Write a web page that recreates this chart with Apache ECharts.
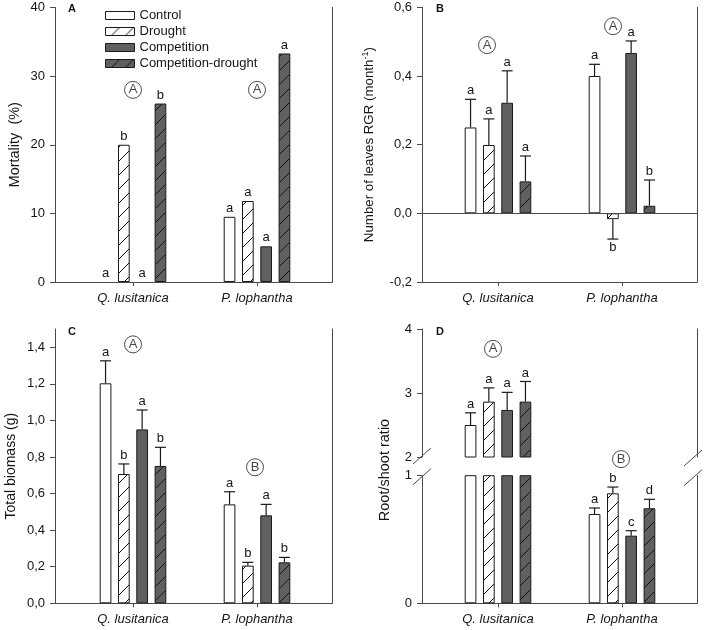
<!DOCTYPE html>
<html><head><meta charset="utf-8">
<script src="https://cdn.jsdelivr.net/npm/echarts@6/dist/echarts.min.js"></script>
<style>html,body{margin:0;padding:0;background:#fff}#c{width:709px;height:630px}</style>
</head><body><div id="c"></div><script>
// ---------------- DATA ----------------
const species = ['Q. lusitanica', 'P. lophantha'];
const treatments = ['Control', 'Drought', 'Competition', 'Competition-drought'];

// Panel A – Mortality (%) rows = treatments, cols = species
const mortality = [[0, 9.5], [20, 11.8], [0, 5.2], [26, 33.3]];
const mortalityLetters = [['a', 'a'], ['b', 'a'], ['a', 'a'], ['b', 'a']];
const mortalityGroups = ['A', 'A'];

// Panel B – Number of leaves RGR (month-1)
const rgr = [[0.25, 0.40], [0.199, -0.017], [0.322, 0.467], [0.093, 0.022]];
const rgrSE = [[0.082, 0.034], [0.076, 0.058], [0.093, 0.035], [0.074, 0.075]];
const rgrLetters = [['a', 'a'], ['a', 'b'], ['a', 'a'], ['a', 'b']];
const rgrGroups = ['A', 'A'];

// Panel C – Total biomass (g)
const biomass = [[1.203, 0.541], [0.707, 0.206], [0.951, 0.481], [0.751, 0.224]];
const biomassSE = [[0.123, 0.069], [0.055, 0.018], [0.106, 0.06], [0.102, 0.027]];
const biomassLetters = [['a', 'a'], ['b', 'b'], ['a', 'a'], ['b', 'b']];
const biomassGroups = ['A', 'B'];
const biomassTicks = [0, 0.2, 0.4, 0.6, 0.8, 1.0, 1.2, 1.4];

// Panel D – Root/shoot ratio (broken axis 1 → 2)
const ratio = [[2.5, 0.70], [2.865, 0.862], [2.735, 0.53], [2.865, 0.745]];
const ratioSE = [[0.19, 0.047], [0.215, 0.049], [0.275, 0.039], [0.315, 0.07]];
const ratioLetters = [['a', 'a'], ['a', 'b'], ['a', 'c'], ['a', 'd']];
const ratioGroups = ['A', 'B'];

// ---------------- STYLE ----------------
const FONT = '"Liberation Sans", Arial, sans-serif';
const AXIS_C = '#4a4a4a';
const TXT_C = '#151515';
const BAR_W = 11.7, BAR_GAP = 6.6, STRIDE = BAR_W + BAR_GAP, CAP = 11;
const GAP_PCT = (BAR_GAP / BAR_W * 100).toFixed(1) + '%';
const INNER_W = 248;
const DARK = '#606060';

function hatch(bg) {
  const s = 14, c = document.createElement('canvas');
  c.width = s; c.height = s;
  const g = c.getContext('2d');
  g.fillStyle = bg; g.fillRect(0, 0, s, s);
  g.strokeStyle = '#111'; g.lineWidth = 1;
  g.beginPath();
  g.moveTo(0, s); g.lineTo(s, 0);
  g.moveTo(-2, 2); g.lineTo(2, -2);
  g.moveTo(s - 2, s + 2); g.lineTo(s + 2, s - 2);
  g.stroke();
  return { image: c, repeat: 'repeat' };
}
const fills = ['#ffffff', hatch('#ffffff'), DARK, hatch(DARK)];
const itemStyles = fills.map(f => ({ color: f, borderColor: '#1a1a1a', borderWidth: 1 }));

const grid = [], xAxis = [], yAxis = [], series = [], graphic = [];

function addPanel(rect, innerLeft, y, opt) {
  opt = opt || {};
  const go = grid.length;
  grid.push({ left: rect.l, top: rect.t, width: rect.w, height: rect.h });
  const gi = grid.length;
  grid.push({ left: innerLeft, top: rect.t, width: INNER_W, height: rect.h });
  const xo = xAxis.length;
  xAxis.push({ gridIndex: go, type: 'value', min: 0, max: 1, show: opt.bottomLine !== false,
    axisLine: { show: true, onZero: false, lineStyle: { color: AXIS_C, width: 1 } },
    axisTick: { show: false }, axisLabel: { show: false }, splitLine: { show: false } });
  const xi = xAxis.length;
  xAxis.push({ gridIndex: gi, type: 'category', data: species, show: opt.catLabels !== false,
    axisLine: { show: false, onZero: false },
    axisTick: { show: true, alignWithLabel: true, length: 4, lineStyle: { color: AXIS_C } },
    axisLabel: { fontSize: 13, fontStyle: 'italic', color: TXT_C, fontFamily: FONT, margin: 10 },
    splitLine: { show: false } });
  const yo = yAxis.length;
  const left = { gridIndex: go, type: 'value', position: 'left', min: y.min, max: y.max, interval: y.interval,
    axisLine: { show: true, onZero: false, lineStyle: { color: AXIS_C, width: 1 } },
    axisTick: { show: true, length: 5, lineStyle: { color: AXIS_C } },
    axisLabel: { fontSize: 13, color: TXT_C, fontFamily: FONT, margin: 10, formatter: y.fmt },
    splitLine: { show: false } };
  if (y.ticks) { left.axisTick.customValues = y.ticks; left.axisLabel.customValues = y.ticks; }
  if (y.name) {
    left.name = y.name; left.nameLocation = 'middle'; left.nameGap = y.nameGap;
    left.nameTextStyle = Object.assign({ fontSize: 14, color: TXT_C, fontFamily: FONT }, y.nameStyle || {});
  }
  yAxis.push(left);
  yAxis.push({ gridIndex: go, type: 'value', position: 'right', min: y.min, max: y.max,
    axisLine: { show: true, onZero: false, lineStyle: { color: AXIS_C, width: 1 } },
    axisTick: { show: false }, axisLabel: { show: false }, splitLine: { show: false } });
  const yi = yAxis.length;
  yAxis.push({ gridIndex: gi, type: 'value', min: y.min, max: y.max, show: false });
  return { xo, xi, yo, yi };
}

function makeErr(t, lets) {
  return function (params, api) {
    const c = api.value(0), v = api.value(1), se = api.value(2);
    const p0 = api.coord([c, v]);
    const x = p0[0] + (t - 1.5) * STRIDE;
    const neg = v < 0;
    let end = p0[1];
    const children = [];
    if (se > 0) {
      end = api.coord([c, neg ? v - se : v + se])[1];
      const ls = { stroke: '#1a1a1a', lineWidth: 1.2 };
      children.push({ type: 'line', shape: { x1: x, y1: p0[1], x2: x, y2: end }, style: ls });
      children.push({ type: 'line', shape: { x1: x - CAP / 2, y1: end, x2: x + CAP / 2, y2: end }, style: ls });
    }
    const letter = lets[params.dataIndex];
    children.push({ type: 'text', style: { text: letter, x: x, y: neg ? end + 2 : end - 2,
      align: 'center', verticalAlign: neg ? 'top' : 'bottom', textAlign: 'center', textVerticalAlign: neg ? 'top' : 'bottom',
      fontSize: 13, fontFamily: FONT, fill: TXT_C } });
    return { type: 'group', children };
  };
}

function addSeries(ax, values, se, letters, barFilter, errFilter) {
  treatments.forEach((name, t) => {
    series.push({ type: 'bar', name, xAxisIndex: ax.xi, yAxisIndex: ax.yi,
      data: values[t].map(v => !barFilter(v) ? '-' : (v === 0 ? { value: 0, itemStyle: { borderWidth: 0 } } : v)),
      barWidth: BAR_W, barGap: GAP_PCT, itemStyle: itemStyles[t], clip: true,
      silent: true, emphasis: { disabled: true }, z: 2 });
    const pts = [], lets = [];
    values[t].forEach((v, c) => {
      if (errFilter(v)) { pts.push([c, v, se ? se[t][c] : 0]); lets.push(letters[t][c]); }
    });
    series.push({ type: 'custom', xAxisIndex: ax.xi, yAxisIndex: ax.yi, data: pts,
      renderItem: makeErr(t, lets), silent: true, z: 5, clip: false });
  });
}

function addCircles(ax, pts) {
  series.push({ type: 'scatter', xAxisIndex: ax.xi, yAxisIndex: ax.yi, clip: false, silent: true,
    data: pts.map(p => ({ value: [p.c, p.y], symbolOffset: [p.dx || 0, 0] })),
    symbol: 'circle', symbolSize: 17, z: 6,
    itemStyle: { color: '#fff', borderColor: '#222', borderWidth: 1 },
    label: { show: true, position: 'inside', formatter: p => pts[p.dataIndex].text,
      fontSize: 13, color: TXT_C, fontFamily: FONT } });
}

const comma = v => v.toFixed(1).replace('.', ',');
const all = () => true;

// Panel A
const axA = addPanel({ l: 55, t: 7.5, w: 277, h: 274.5 }, 71,
  { min: 0, max: 40, interval: 10, fmt: v => String(v), name: 'Mortality  (%)', nameGap: 33,
    nameStyle: { fontSize: 14.5 } });
addSeries(axA, mortality, null, mortalityLetters, all, all);
addCircles(axA, mortalityGroups.map((g, c) => ({ c, y: 28, text: g })));

// Panel B
const axB = addPanel({ l: 422, t: 7.3, w: 275, h: 274.7 }, 436,
  { min: -0.2, max: 0.6, interval: 0.2, fmt: comma,
    name: 'Number of leaves RGR (month{sup|-1})', nameGap: 44,
    nameStyle: { fontSize: 13.3, rich: { sup: { fontSize: 9, padding: [0, 0, 8, 0], fontFamily: FONT, color: TXT_C } } } });
addSeries(axB, rgr, rgrSE, rgrLetters, all, all);
addCircles(axB, [{ c: 0, y: 0.49, text: rgrGroups[0], dx: -11 }, { c: 1, y: 0.545, text: rgrGroups[1], dx: -9 }]);
series.push({ type: 'line', xAxisIndex: axB.xo, yAxisIndex: axB.yo, data: [], silent: true,
  markLine: { silent: true, symbol: 'none', label: { show: false },
    lineStyle: { color: AXIS_C, type: 'solid', width: 1 }, data: [{ yAxis: 0 }] } });

// Panel C
const axC = addPanel({ l: 55, t: 329, w: 277, h: 274.3 }, 71,
  { min: 0, max: 1.5, interval: 0.2, ticks: biomassTicks, fmt: comma, name: 'Total biomass (g)', nameGap: 37 });
addSeries(axC, biomass, biomassSE, biomassLetters, all, all);
addCircles(axC, [{ c: 0, y: 1.416, text: biomassGroups[0] }, { c: 1, y: 0.744, text: biomassGroups[1], dx: -2 }]);

// Panel D (broken axis: lower 0–1, upper 2–4)
const BREAK_LO = 1, BREAK_HI = 2;
const dLowRect = { l: 422, t: 475.7, w: 275, h: 127.6 };
const dUpRect = { l: 422, t: 329, w: 275, h: 128 };
const axDl = addPanel(dLowRect, 436, { min: 0, max: BREAK_LO, interval: 1, fmt: v => String(v) });
const axDu = addPanel(dUpRect, 436, { min: BREAK_HI, max: 4, interval: 1, fmt: v => String(v) },
  { bottomLine: false, catLabels: false });
addSeries(axDl, ratio, ratioSE, ratioLetters, all, v => v <= BREAK_LO);
addSeries(axDu, ratio, ratioSE, ratioLetters, v => v >= BREAK_HI, v => v >= BREAK_HI);
addCircles(axDu, [{ c: 0, y: 3.69, text: ratioGroups[0], dx: -5 }]);
addCircles(axDl, [{ c: 1, y: 1.13, text: ratioGroups[1], dx: -1 }]);

// decorations: panel letters, D axis name, break marks
const panelLetters = [['A', 68, 3], ['B', 436, 3], ['C', 68, 326], ['D', 436, 326]];
panelLetters.forEach(([t, x, y]) => graphic.push({ type: 'text', left: x, top: y, silent: true,
  style: { text: t, fontSize: 11, fontWeight: 'bold', fontFamily: FONT, fill: TXT_C } }));
graphic.push({ type: 'text', x: 385, y: 470, rotation: Math.PI / 2, silent: true,
  style: { text: 'Root/shoot ratio', fontSize: 14.5, fontFamily: FONT, fill: TXT_C, align: 'center', verticalAlign: 'middle',
    textAlign: 'center', textVerticalAlign: 'middle' } });
function slash(cx, cy) {
  graphic.push({ type: 'line', silent: true, shape: { x1: cx - 9, y1: cy + 8, x2: cx + 9, y2: cy - 8 },
    style: { stroke: AXIS_C, lineWidth: 1 } });
}
const upBottom = dUpRect.t + dUpRect.h, lowTop = dLowRect.t;
slash(dUpRect.l, upBottom - 1); slash(dLowRect.l, lowTop + 1);
slash(dUpRect.l + dUpRect.w - 4, upBottom + 1); slash(dLowRect.l + dLowRect.w - 4, lowTop + 2);

const chart = echarts.init(document.getElementById('c'), null, { renderer: 'canvas' });
chart.setOption({
  animation: false,
  backgroundColor: '#fff',
  textStyle: { fontFamily: FONT },
  legend: { data: treatments, orient: 'vertical', left: 100, top: 4, itemWidth: 29, itemHeight: 8, itemGap: 3,
    icon: 'rect', selectedMode: false, itemStyle: { borderColor: '#1a1a1a', borderWidth: 1 },
    textStyle: { fontSize: 13, color: TXT_C, fontFamily: FONT } },
  grid, xAxis, yAxis, series, graphic
});
</script></body></html>
